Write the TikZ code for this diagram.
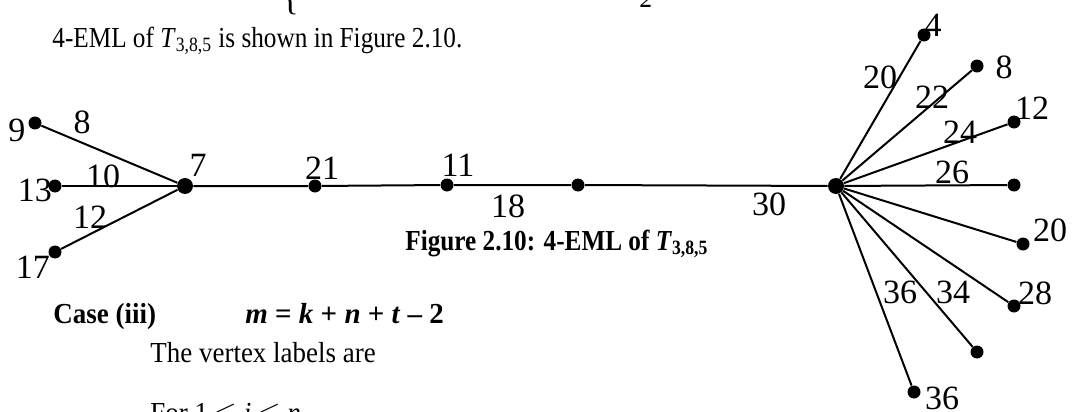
\documentclass[tikz,border=0pt]{standalone}
\usepackage{fontspec}
\setmainfont{Liberation Serif}
\newfontfamily\bodyfont[FakeStretch=0.87]{Liberation Serif}
\newfontfamily\narrowfont[FakeStretch=0.93]{Liberation Serif}
\begin{document}
\begin{tikzpicture}[x=0.5pt, y=-0.5pt,
    vtx/.style={circle, fill=black, inner sep=0pt, minimum size=6.5pt},
    hub/.style={vtx, minimum size=8pt},
    lbl/.style={font=\fontsize{17}{17}\selectfont, inner sep=0pt},
    txt/.style={font=\bodyfont\fontsize{14.5}{17}\selectfont, inner sep=0pt, anchor=base west},
    txtb/.style={txt, font=\narrowfont\fontsize{14.5}{17}\selectfont},
    edge/.style={line width=1pt}]
    \useasboundingbox (0,0) rectangle (1072,412);

    % Vertices: left star, path, right star
    \node[hub] (c) at (185,186) {};
    \node[hub] (h) at (836,186) {};
    \foreach \n/\x/\y in {l1/35/123, l2/55/186, l3/55/252, p1/315/186, p2/447/185, p3/578/185} {
        \node[vtx] (\n) at (\x,\y) {};
    }
    \foreach \n/\x/\y in {r1/924/35, r2/977/66, r3/1014/122, r4/1014/185, r5/1023/244, r6/1014/306, r7/977/352, r8/914/392} {
        \node[vtx] (\n) at (\x,\y) {};
    }

    % Edges
    \foreach \v in {l1,l2,l3} {
        \draw[edge] (c) -- (\v);
    }
    \draw[edge] (c) -- (p1) -- (p2) -- (p3) -- (h);
    \foreach \v in {r1,r2,r3,r4,r5,r6,r7,r8} {
        \draw[edge] (h) -- (\v);
    }

    % Vertex and edge labels
    \foreach \n/\x/\y/\t in {v9/17/130/9, e8/82/122/8, v13/35/190/13, e10/103/176/10, e12/90/217/12, v17/33/267/17,
        v7/198/165/7, v21/322/168/21, v11/458/165/11, e18/508/206/18, e30/769/204/30} {
        \node[lbl] (\n) at (\x,\y) {\t};
    }
    \foreach \n/\x/\y/\t in {ra/880/77/20, rb/933/25/4, rc/1004/67/8, rd/932/97/22, re/960/132/24, rf/1032/108/12,
        rg/952/172/26, rh/1050/230/20, ri/1035/293/28, rj/953/292/34, rk/900/292/36, rl/942/398/36} {
        \node[lbl] (\n) at (\x,\y) {\t};
    }

    % Surrounding text
    \node[txt] (top1) at (282,10) {\fontsize{20}{20}\selectfont\{};
    \node[txt] (top2) at (640,8) {\textit{2}};
    \node[txt] (line1) at (52,47) {4-EML of \textit{T}\textsubscript{3,8,5} is shown in Figure 2.10.};
    \node[txt] (cap) at (405,250) {\textbf{Figure 2.10: 4-EML of \textit{T}\textsubscript{3,8,5}}};
    \node[txtb] (case) at (53,323) {\textbf{Case (iii)}};
    \node[txt, font=\fontsize{14.5}{17}\selectfont] (eq) at (245,323) {\textbf{\textit{m} = \textit{k} + \textit{n} + \textit{t} – 2}};
    \node[txtb] (line2) at (150,362) {The vertex labels are};
    \node[txtb] (line3) at (150,422) {For 1 $\leq$ \textit{i} $\leq$ \textit{n}};
\end{tikzpicture}
\end{document}
